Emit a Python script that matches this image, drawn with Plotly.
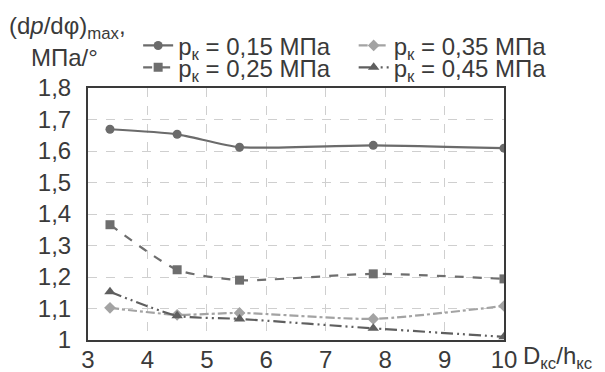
import plotly.graph_objects as go

ratio = [3.37, 4.5, 5.55, 7.8, 10.0]
p015 = [1.669, 1.653, 1.612, 1.618, 1.609]
p025 = [1.366, 1.223, 1.190, 1.210, 1.194]
p035 = [1.102, 1.080, 1.086, 1.067, 1.108]
p045 = [1.153, 1.077, 1.067, 1.037, 1.010]
ytick_vals = [1.0, 1.1, 1.2, 1.3, 1.4, 1.5, 1.6, 1.7, 1.8]
ytick_text = ["1", "1,1", "1,2", "1,3", "1,4", "1,5", "1,6", "1,7", "1,8"]
xtick_vals = [3, 4, 5, 6, 7, 8, 9, 10]
names = ["p<sub>к</sub> = 0,15 МПа", "p<sub>к</sub> = 0,25 МПа",
         "p<sub>к</sub> = 0,35 МПа", "p<sub>к</sub> = 0,45 МПа"]

FONT = "Liberation Sans, Arial, sans-serif"
TXT = "#3a3a3a"
FS = 24

fig = go.Figure()
specs = [
    (p015, names[0], "#6b6b6b", "solid", "circle", 9, "legend"),
    (p025, names[1], "#6e6e6e", "dash", "square", 9, "legend3"),
    (p035, names[2], "#a3a3a3", "dashdot", "diamond", 9, "legend2"),
    (p045, names[3], "#5f5f5f", "12px,4px,2px,4px,2px,4px", "triangle-up", 10, "legend4"),
]
for ys, nm, col, dash, sym, ms, lg in specs:
    fig.add_trace(go.Scatter(
        x=ratio, y=ys, name=nm, mode="lines+markers", legend=lg,
        line=dict(color=col, width=2.2, dash=dash, shape="spline", smoothing=0.6),
        marker=dict(symbol=sym, size=ms, color=col),
    ))

axis_common = dict(
    showline=True, linecolor="#3a3a3a", linewidth=2, mirror=True,
    showgrid=True, gridcolor="#cfcfcf", griddash="dash", gridwidth=1,
    zeroline=False, ticks="", tickfont=dict(family=FONT, size=FS, color=TXT),
)

def leg(x, y):
    return dict(orientation="h", xref="container", yref="container",
                x=x, y=y, xanchor="left", yanchor="middle",
                itemwidth=30, font=dict(family=FONT, size=FS, color=TXT),
                bgcolor="rgba(0,0,0,0)")

# page body has an 8px default margin; figure is sized to compensate
fig.update_layout(
    width=597, height=364,
    margin=dict(l=80, r=101, t=80, b=32, autoexpand=False),
    paper_bgcolor="white", plot_bgcolor="white",
    font=dict(family=FONT, size=FS, color=TXT),
    xaxis=dict(range=[3, 10], tickvals=xtick_vals, ticklabelstandoff=-3, **axis_common),
    yaxis=dict(range=[1, 1.8], tickvals=ytick_vals, ticktext=ytick_text,
               ticklabelstandoff=10, **axis_common),
    legend=leg(0.218, 0.896),
    legend2=leg(0.579, 0.896),
    legend3=leg(0.218, 0.836),
    legend4=leg(0.579, 0.836),
    showlegend=True,
    annotations=[
        dict(text="(d<i>p</i>/dφ)<sub>max</sub>,", xref="paper", yref="paper",
             x=-0.05, y=1.242, xanchor="center", yanchor="middle", showarrow=False,
             font=dict(family=FONT, size=FS, color=TXT)),
        dict(text="МПа/°", xref="paper", yref="paper",
             x=-0.057, y=1.123, xanchor="center", yanchor="middle", showarrow=False,
             font=dict(family=FONT, size=FS, color=TXT)),
        dict(text="D<sub>кс</sub>/h<sub>кс</sub>", xref="paper", yref="paper",
             x=1.042, y=-0.07, xanchor="left", yanchor="middle", showarrow=False,
             font=dict(family=FONT, size=FS, color=TXT)),
    ],
)

fig.write_html("out.html")
